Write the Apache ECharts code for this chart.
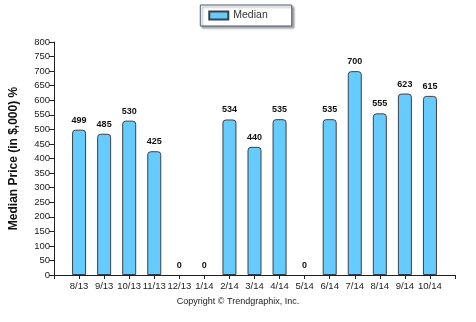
<!DOCTYPE html>
<html>
<head>
<meta charset="utf-8">
<script src="https://cdn.jsdelivr.net/npm/echarts@6/dist/echarts.min.js"></script>
<style>html,body{margin:0;padding:0;background:#fff;}#c{width:476px;height:322px;}</style>
</head>
<body>
<div id="c"></div>
<script>
var months = ['8/13','9/13','10/13','11/13','12/13','1/14','2/14','3/14','4/14','5/14','6/14','7/14','8/14','9/14','10/14'];
var medianValues = [499, 485, 530, 425, 0, 0, 534, 440, 535, 0, 535, 700, 555, 623, 615];
var yTicks = [0, 50, 100, 150, 200, 250, 300, 350, 400, 450, 500, 550, 600, 650, 700, 750, 800];
var seriesName = 'Median';
var yTitle = 'Median Price (in $,000) %';
var copyright = 'Copyright \u00A9 Trendgraphix, Inc.';

var cats = [''].concat(months).concat(['']);
var vals = ['-'].concat(medianValues.map(function (v) {
  return v === 0 ? {value: v, itemStyle: {borderWidth: 0}} : v;
})).concat(['-']);

var chart = echarts.init(document.getElementById('c'), null, {renderer: 'canvas'});
chart.setOption({
  animation: false,
  textStyle: {fontFamily: 'Liberation Sans, Arial, sans-serif'},
  grid: {left: 53, right: 21, top: 42, bottom: 47, containLabel: false},
  legend: {
    data: [seriesName],
    top: 5,
    left: 'center',
    icon: 'rect',
    itemWidth: 19,
    itemHeight: 8,
    itemGap: 5,
    padding: [5, 24, 5, 8],
    backgroundColor: '#fff',
    borderColor: '#4a5a78',
    borderWidth: 1,
    shadowColor: 'rgba(0,0,0,0.35)',
    shadowBlur: 2,
    shadowOffsetX: 2,
    shadowOffsetY: 2,
    textStyle: {fontSize: 10.5, color: '#333', fontFamily: 'Liberation Sans, Arial, sans-serif'}
  },
  graphic: [{
    type: 'text',
    left: 'center',
    top: 297,
    style: {text: copyright, fontSize: 9, fill: '#222', fontFamily: 'Liberation Sans, Arial, sans-serif'}
  }],
  xAxis: {
    type: 'category',
    data: cats,
    boundaryGap: false,
    axisLine: {lineStyle: {color: '#222', width: 1}},
    axisTick: {show: true, length: 4, interval: 0, lineStyle: {color: '#222'}},
    axisLabel: {interval: 0, fontSize: 9.5, color: '#222', margin: 6},
    splitLine: {show: false}
  },
  yAxis: {
    type: 'value',
    min: 0,
    max: 800,
    interval: 50,
    name: yTitle,
    nameLocation: 'middle',
    nameGap: 34,
    nameTextStyle: {fontSize: 12, fontWeight: 'bold', color: '#111', fontFamily: 'Liberation Sans, Arial, sans-serif'},
    axisLine: {show: true, lineStyle: {color: '#222', width: 1}},
    axisTick: {show: true, length: 5, lineStyle: {color: '#222'}},
    axisLabel: {fontSize: 9.5, color: '#222', margin: 4,
      formatter: function (v) { return yTicks.indexOf(v) >= 0 ? String(v) : ''; }},
    splitLine: {show: false}
  },
  series: [{
    name: seriesName,
    type: 'bar',
    data: vals,
    barWidth: 14,
    itemStyle: {color: '#66CCFF', borderColor: '#3a4048', borderWidth: 1, borderRadius: [3, 3, 0, 0]},
    label: {show: true, position: 'top', distance: 5, fontSize: 9, fontWeight: 'bold', color: '#111'}
  }]
});
</script>
</body>
</html>
